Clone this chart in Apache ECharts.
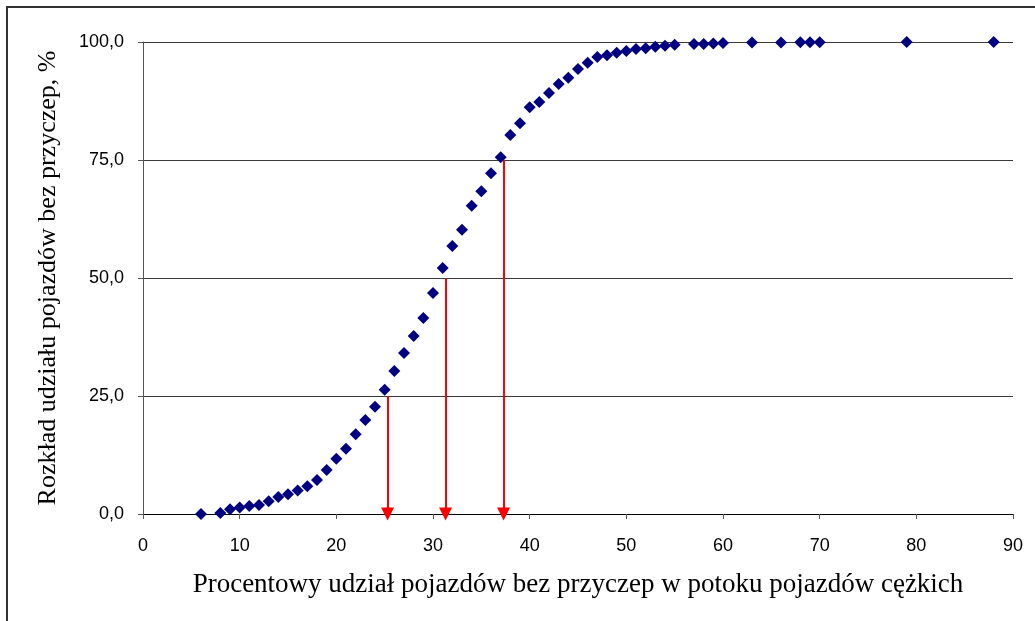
<!DOCTYPE html>
<html>
<head>
<meta charset="utf-8">
<script src="https://cdn.jsdelivr.net/npm/echarts@6/dist/echarts.min.js"></script>
<style>
  html, body { margin: 0; padding: 0; background: #fff; }
  #chart { width: 1035px; height: 621px; }
</style>
</head>
<body>
<div id="chart"></div>
<script>
// Share of trailer-less vehicles in heavy traffic (x, %) and cumulative distribution (y, %)
const shareX = [6, 8, 9, 10, 11, 12, 13, 14, 15, 16, 17, 18, 19, 20, 21, 22, 23, 24, 25, 26,
  27, 28, 29, 30, 31, 32, 33, 34, 35, 36, 37, 38, 39, 40, 41, 42, 43, 44, 45, 46,
  47, 48, 49, 50, 51, 52, 53, 54, 55, 57, 58, 59, 60, 63, 66, 68, 69, 70, 79, 88];
const cumulativeY = [0, 0.2, 1.0, 1.4, 1.7, 1.9, 2.7, 3.6, 4.2, 5.0, 5.9, 7.2, 9.3, 11.7, 13.8, 16.9, 19.9, 22.7, 26.3, 30.3,
  34.1, 37.7, 41.5, 46.8, 52.1, 56.8, 60.2, 65.3, 68.4, 72.2, 75.6, 80.3, 82.8, 86.2, 87.3, 89.2, 91.1, 92.4, 94.3, 95.6,
  96.8, 97.2, 97.7, 98.1, 98.5, 98.7, 99.0, 99.2, 99.4, 99.6, 99.6, 99.7, 99.8, 99.9, 99.9, 99.95, 99.95, 99.95, 100, 100];

// Percentile readout arrows (25 %, 50 %, 75 %)
const arrowX = [25.3, 31.3, 37.3];
const arrowLevel = [25, 50, 75];

const xTicks = [0, 10, 20, 30, 40, 50, 60, 70, 80, 90];
const yTicks = [0, 25, 50, 75, 100];

const points = shareX.map((x, i) => [x, cumulativeY[i]]);
const arrowLines = arrowX.map((x, i) => [
  { coord: [x, arrowLevel[i]] },
  { coord: [x, 0] }
]);

const chart = echarts.init(document.getElementById('chart'), null, { renderer: 'canvas' });

chart.setOption({
  animation: false,
  backgroundColor: '#ffffff',
  graphic: [{
    type: 'rect',
    shape: { x: 7, y: 7, width: 1100, height: 700 },
    style: { fill: 'none', stroke: '#333333', lineWidth: 2 },
    silent: true
  }],
  grid: { left: 143, top: 42, width: 870, height: 472 },
  xAxis: {
    type: 'value',
    min: xTicks[0],
    max: xTicks[xTicks.length - 1],
    interval: 10,
    name: 'Procentowy udział pojazdów bez przyczep w potoku pojazdów cężkich',
    nameLocation: 'middle',
    nameGap: 57,
    nameTextStyle: { fontFamily: 'Liberation Serif', fontSize: 27, color: '#000' },
    axisLine: { show: true, onZero: false, lineStyle: { color: '#000', width: 1 } },
    axisTick: { show: true, inside: false, length: 5, lineStyle: { color: '#555' } },
    axisLabel: { margin: 23, fontFamily: 'Liberation Sans', fontSize: 18, color: '#000' },
    splitLine: { show: false }
  },
  yAxis: {
    type: 'value',
    min: yTicks[0],
    max: yTicks[yTicks.length - 1],
    interval: 25,
    name: 'Rozkład udziału pojazdów bez przyczep, %',
    nameLocation: 'middle',
    nameRotate: 90,
    nameGap: 82,
    nameTextStyle: { fontFamily: 'Liberation Serif', fontSize: 26, color: '#000' },
    axisLine: { show: true, lineStyle: { color: '#555', width: 1 } },
    axisTick: { show: true, inside: false, length: 5, lineStyle: { color: '#555' } },
    axisLabel: {
      margin: 19, fontFamily: 'Liberation Sans', fontSize: 18, color: '#000',
      formatter: v => v.toFixed(1).replace('.', ',')
    },
    splitLine: { show: true, lineStyle: { color: '#3a3a3a', width: 1 } }
  },
  series: [{
    type: 'scatter',
    data: points,
    symbol: 'diamond',
    symbolSize: 12,
    itemStyle: { color: '#000080', opacity: 1 },
    z: 3,
    markLine: {
      silent: true,
      symbol: ['none', 'triangle'],
      symbolSize: [13, 13],
      label: { show: false },
      lineStyle: { color: '#ff0000', width: 2, type: 'solid', opacity: 1 },
      data: arrowLines,
      z: 2
    }
  }]
});
</script>
</body>
</html>
